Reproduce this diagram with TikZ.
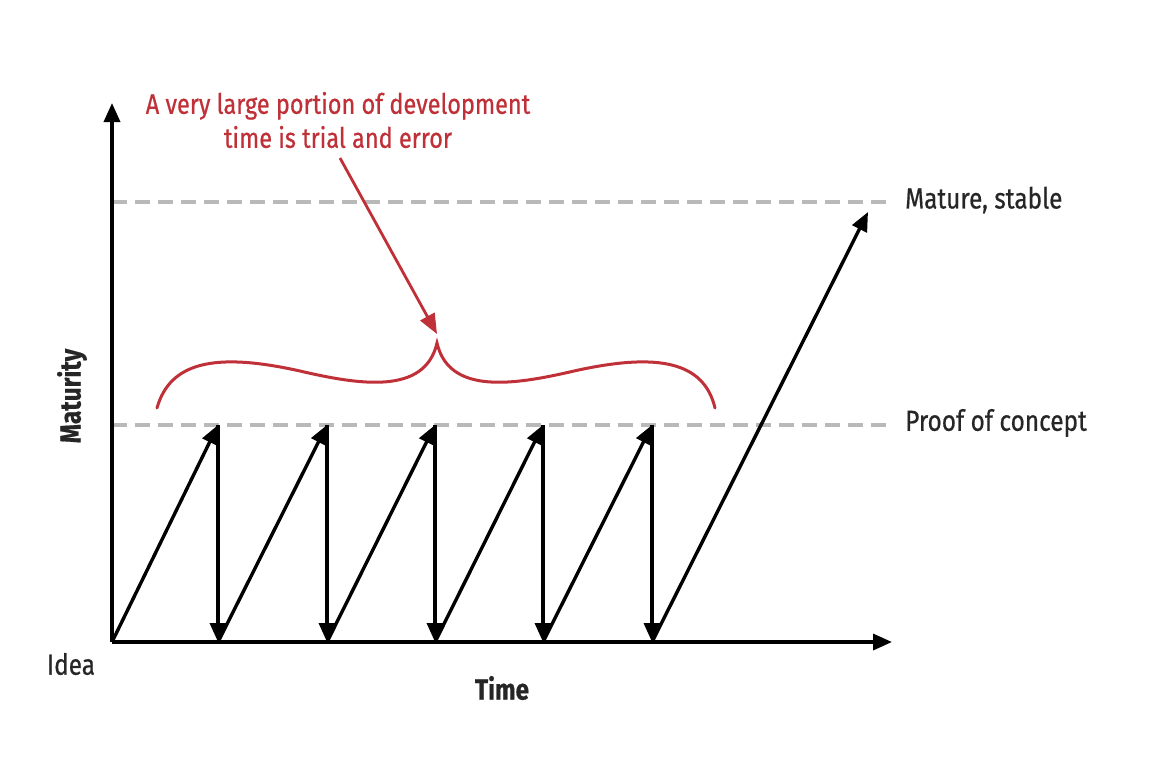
\documentclass[tikz,border=0pt]{standalone}
\usepackage{fontspec}
\setmainfont[FakeStretch=0.84,FakeBold=0.6]{Fira Sans}
\usetikzlibrary{arrows.meta}
\definecolor{annot}{RGB}{192,48,56}
\definecolor{guide}{RGB}{185,185,185}
\tikzset{
  blk/.style={line width=3.4pt, -{Triangle[length=19pt,width=16pt]}},
  guideline/.style={guide, line width=3.2pt, dash pattern=on 15pt off 8pt},
  lbl/.style={font=\fontsize{29}{34}\selectfont, text=black!85, inner sep=0pt},
  redlbl/.style={font=\fontsize{28}{34}\selectfont, text=annot, align=center, inner sep=0pt},
}
\begin{document}
\begin{tikzpicture}[x=1pt,y=-1pt]
\path[fill=white] (0,0) rectangle (1172,764);
\coordinate (O) at (112,642);
\coordinate (ytop) at (112,103);
\coordinate (xend) at (892,642);
% guide lines
\coordinate (m0) at (112,202); \coordinate (m1) at (888,202);
\coordinate (p0) at (112,425); \coordinate (p1) at (888,425);
\draw[guideline] (m0) -- (m1);
\draw[guideline] (p0) -- (p1);
% axes
\draw[blk] (O) -- (ytop);
\draw[blk] (O) -- (xend);
% sawtooth
\foreach \i/\x in {1/218,2/327,3/435,4/543,5/652}{
  \coordinate (t\i) at (\x,425);
  \coordinate (b\i) at (\x,642);
}
\coordinate (b0) at (112,642);
\foreach \i [evaluate=\i as \j using int(\i-1)] in {1,...,5}{
  \draw[blk] (b\j) -- (t\i);
  \draw[blk] (t\i) -- (b\i);
}
\coordinate (final) at (868,212);
\draw[blk] (b5) -- (final);
% labels
\node[lbl, anchor=west] (mature) at (905,200) {Mature, stable};
\node[lbl, anchor=west] (proof) at (905,423) {Proof of concept};
\node[lbl] (idea) at (71,664) {Idea};
\node[lbl, font=\fontsize{29}{34}\selectfont\bfseries] (time) at (502,688) {Time};
\node[lbl, font=\fontsize{29}{34}\selectfont\bfseries, rotate=90] (maturity) at (72,396) {Maturity};
% brace
\coordinate (bl) at (157,408);
\coordinate (bm) at (437,343);
\coordinate (br) at (715,408);
\draw[annot, line width=3pt, line cap=round]
  (bl) .. controls (170,362) and (215,352) .. (300,371)
  .. controls (360,385) and (425,395) .. (bm)
  .. controls (449,395) and (514,385) .. (574,371)
  .. controls (659,352) and (704,362) .. (br);
% annotation
\node[redlbl] (note) at (338,120) {A very large portion of development\\time is trial and error};
\coordinate (tip) at (437,334);
\draw[annot, line width=2.8pt, -{Triangle[length=20pt,width=16pt]}] (340,158) -- (tip);
\end{tikzpicture}
\end{document}
